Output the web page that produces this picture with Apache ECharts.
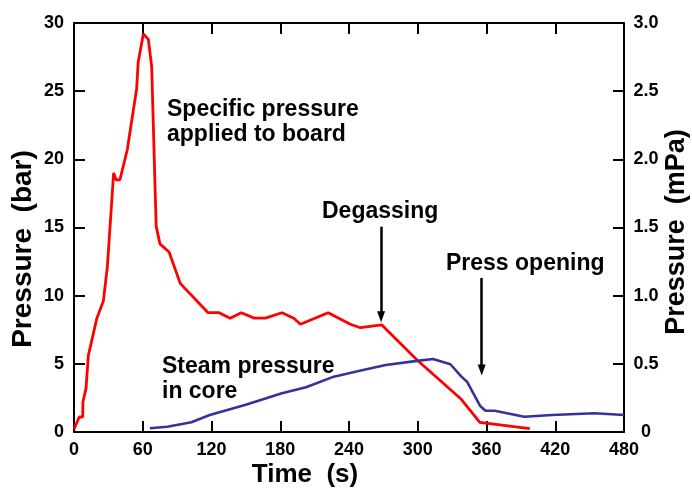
<!DOCTYPE html>
<html>
<head>
<meta charset="utf-8">
<script src="https://cdn.jsdelivr.net/npm/echarts@6/dist/echarts.min.js"></script>
<style>
  html, body { margin: 0; padding: 0; background: #fff; }
  #chart { width: 692px; height: 491px; }
</style>
</head>
<body>
<div id="chart"></div>
<script>
// specific pressure applied to board (bar, left axis)
var boardTime = [0, 4.6, 7.6, 7.8, 10.5, 12.5, 19.8, 25.6, 29.1, 34.6, 36.7, 40.1, 46.5, 54.7, 56, 60.5, 64.9, 67.8,
  71.7, 75, 83, 92.7, 117, 126.6, 136.3, 146, 157.3, 167, 181.5, 191.8, 197.6, 221.8, 241.2, 249.9, 268.7, 299.4,
  338, 354.2, 397.8];
var boardBar = [0.2, 1.1, 1.1, 2.2, 3.2, 5.6, 8.3, 9.6, 12.1, 19.0, 18.5, 18.5, 20.7, 25.2, 27.1, 29.2, 28.8, 26.8,
  15.1, 13.8, 13.2, 10.9, 8.75, 8.75, 8.35, 8.75, 8.35, 8.35, 8.75, 8.35, 7.9, 8.75, 7.9, 7.65, 7.85, 5.28,
  2.4, 0.7, 0.25];

// steam pressure in core (mPa, right axis)
var steamTime = [66.2, 81.4, 102.4, 118.5, 149.2, 181.5, 202.5, 226.7, 249.4, 272, 297.8, 313.3, 328.5, 338.1,
  343, 354.3, 359.1, 367.2, 393, 417.2, 454.3, 480];
var steamMPa = [0.027, 0.039, 0.071, 0.125, 0.198, 0.284, 0.328, 0.406, 0.45, 0.492, 0.52, 0.536, 0.497, 0.406,
  0.369, 0.193, 0.156, 0.156, 0.112, 0.125, 0.137, 0.125];

// arrows: [time, from bar, to bar]
var degassingArrow = [268, 15.06, 8.46];
var openingArrow = [355.8, 11.3, 4.55];

var FONT = '"Liberation Sans", Arial, Helvetica, sans-serif';

function pairs(xs, ys) {
  var out = [];
  for (var i = 0; i < xs.length; i++) out.push([xs[i], ys[i]]);
  return out;
}

function axisStyle(extra) {
  var base = {
    axisLine: { show: true, onZero: false, lineStyle: { color: '#000', width: 2 } },
    axisTick: { show: true, inside: true, length: 11, lineStyle: { color: '#000', width: 2 } },
    splitLine: { show: false },
    axisLabel: { color: '#000', fontSize: 18, fontWeight: 'bold', fontFamily: FONT }
  };
  for (var k in extra) {
    if (base[k] && typeof extra[k] === 'object') {
      for (var j in extra[k]) base[k][j] = extra[k][j];
    } else {
      base[k] = extra[k];
    }
  }
  return base;
}

function label(text, x, y, size, align, rot) {
  return {
    type: 'text', x: x, y: y, rotation: rot || 0, silent: true,
    style: {
      text: text, fill: '#000', fontSize: size, fontWeight: 'bold', fontFamily: FONT,
      align: align || 'left', verticalAlign: 'middle'
    }
  };
}

var chart = echarts.init(document.getElementById('chart'));
var option = {
  animation: false,
  backgroundColor: '#fff',
  grid: { left: 74, right: 68, top: 23, bottom: 59, containLabel: false, outerBoundsMode: 'none' },
  xAxis: [
    axisStyle({ type: 'value', position: 'bottom', min: 0, max: 480, interval: 60,
      axisLabel: { margin: 9 } }),
    axisStyle({ type: 'value', position: 'top', min: 0, max: 480, interval: 60,
      axisLabel: { show: false } })
  ],
  yAxis: [
    axisStyle({ type: 'value', position: 'left', min: 0, max: 30, interval: 5,
      axisLabel: { margin: 10 } }),
    axisStyle({ type: 'value', position: 'right', min: 0, max: 3, interval: 0.5,
      axisLabel: { margin: 22, align: 'center', formatter: function (v) { return v === 0 ? '0' : v.toFixed(1); } } })
  ],
  series: [
    {
      name: 'Specific pressure applied to board',
      type: 'line', xAxisIndex: 0, yAxisIndex: 0,
      data: pairs(boardTime, boardBar),
      showSymbol: false, symbol: 'none',
      lineStyle: { color: '#ff0000', width: 2.8 },
      markLine: {
        silent: true,
        symbol: ['none', 'triangle'],
        symbolSize: [8, 11],
        label: { show: false },
        lineStyle: { color: '#000', width: 2.5, type: 'solid' },
        data: [
          [{ coord: [degassingArrow[0], degassingArrow[1]] }, { coord: [degassingArrow[0], degassingArrow[2]] }],
          [{ coord: [openingArrow[0], openingArrow[1]] }, { coord: [openingArrow[0], openingArrow[2]] }]
        ]
      }
    },
    {
      name: 'Steam pressure in core',
      type: 'line', xAxisIndex: 0, yAxisIndex: 1,
      data: pairs(steamTime, steamMPa),
      showSymbol: false, symbol: 'none',
      lineStyle: { color: '#33339a', width: 2.6 }
    }
  ],
  graphic: [
    label('Pressure  (bar)', 23, 249, 28, 'center', Math.PI / 2),
    label('Pressure  (mPa)', 677, 232, 27, 'center', Math.PI / 2),
    label('Time  (s)', 305, 475, 26, 'center'),
    label('Specific pressure', 167, 110, 23),
    label('applied to board', 167, 135, 23),
    label('Degassing', 322, 212, 23),
    label('Press opening', 446, 264, 23),
    label('Steam pressure', 162, 367, 23),
    label('in core', 162, 392, 23)
  ]
};
chart.setOption(option);
</script>
</body>
</html>
